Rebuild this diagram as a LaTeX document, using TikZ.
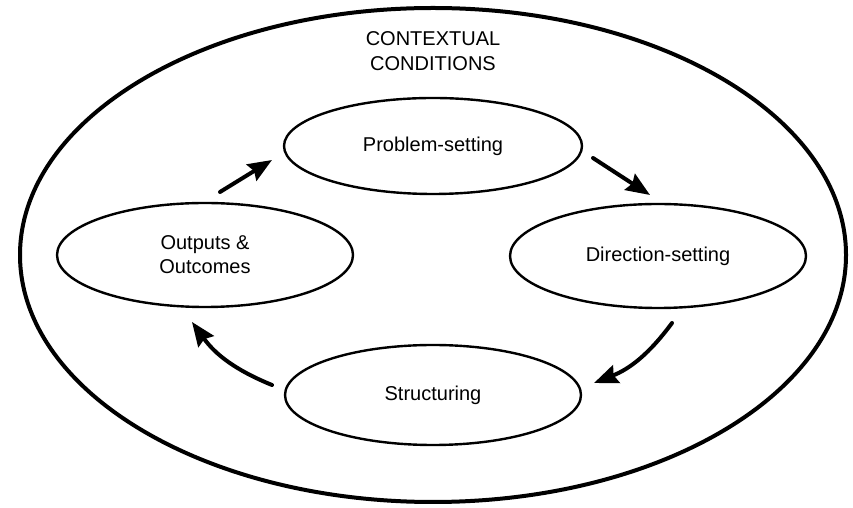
\documentclass[tikz,border=0pt]{standalone}
\usepackage{fontspec}
\setmainfont{Liberation Sans}
\usepackage{tikz}
\usetikzlibrary{arrows.meta}
\usetikzlibrary{shapes.geometric}
\usetikzlibrary{positioning}
\tikzset{stage/.style = {draw, ellipse, line width=2.4pt, inner sep=0, outer sep=0,
                         minimum width=296, minimum height=100, align=center,
                         font=\fontsize{20}{24}\selectfont}}
\tikzset{flow/.style = {line width=4pt, line cap=round,
                        -{Stealth[length=24pt, width=19pt, inset=3pt]}}}
\tikzset{ctxtext/.style = {inner sep=0, outer sep=0, align=center,
                           font=\fontsize{20}{25}\selectfont}}

\begin{document}
\begin{tikzpicture}[x=1pt, y=1pt]
  \useasboundingbox (0,0) rectangle (853,508);

  % contextual conditions
  \node (ctx) [draw, ellipse, line width=4pt, inner sep=0, outer sep=0,
               minimum width=826, minimum height=494] at (433,253) {};
  \node (title) [ctxtext, below=24pt of ctx.north] {CONTEXTUAL\\CONDITIONS};

  % the four stages
  \node (prob) [stage, minimum width=298, minimum height=96] at (433,362) {Problem-setting};
  \node (dir) [stage, minimum height=104] at (658,252) {Direction-setting};
  \node (struct) [stage] at (433,113) {Structuring};
  \node (outc) [stage, minimum height=104] at (205,253) {Outputs \&\\Outcomes};

  \coordinate (a1s) at (220,316);
  \coordinate (a1e) at (272,348);
  \coordinate (a2s) at (593,350);
  \coordinate (a2e) at (650,313);
  \coordinate (a3s) at (672,185);
  \coordinate (a3e) at (594,125);
  \coordinate (a4s) at (272,123);
  \coordinate (a4e) at (192,186);

  \draw [flow] (a1s) -- (a1e);
  \draw [flow] (a2s) -- (a2e);
  \draw [flow] (a3s) to [bend left=16] (a3e);
  \draw [flow] (a4s) to [bend left=16] (a4e);
\end{tikzpicture}
\end{document}
